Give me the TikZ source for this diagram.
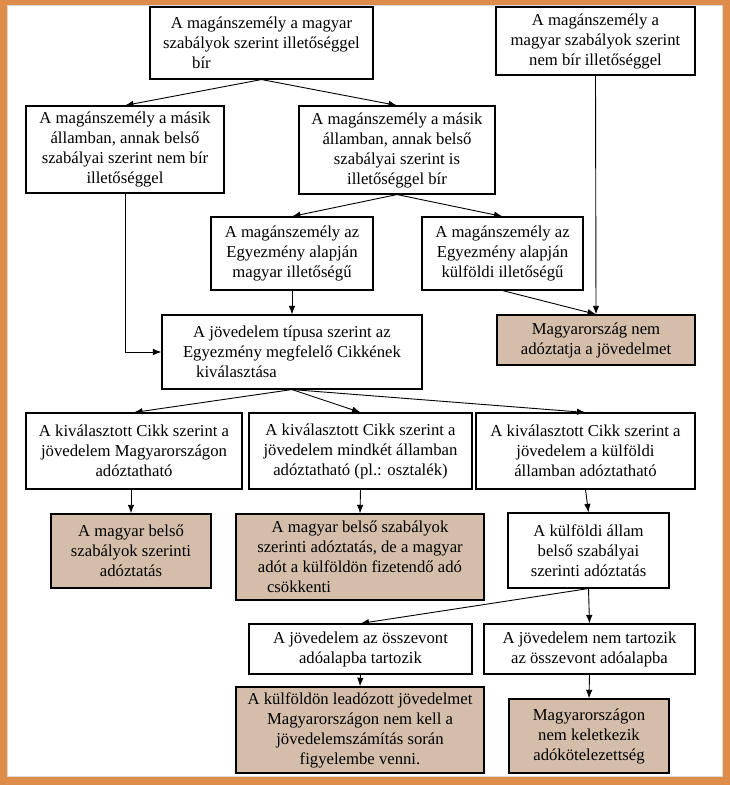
\documentclass[tikz,border=0pt]{standalone}
\usepackage{fontspec}
\setmainfont{Liberation Serif}
\usetikzlibrary{arrows.meta}
\definecolor{frameorange}{RGB}{222,140,74}
\definecolor{taxbrown}{RGB}{212,190,170}
\begin{document}
\begin{tikzpicture}[x=1pt, y=-1pt, >={Latex[length=8.5pt,width=6.5pt]},
	line width=0.9pt,
	main node/.style={rectangle,draw,line width=1.1pt,fill=white,inner sep=2pt,
		align=center,font=\fontsize{16.7}{20}\selectfont},
	tax node/.style={main node,fill=taxbrown,line width=1.4pt}]
	
	\useasboundingbox (0,0) rectangle (730,785);
	\fill[frameorange] (0,0) rectangle (730,785);
	\filldraw[fill=white,draw=gray!30,line width=0.6pt] (7,5) rectangle (722,776);
	
	\node[main node,minimum width=223pt,minimum height=72pt] (1) at (261.5,43)
		{A magánszemély a magyar\\szabályok szerint illetőséggel\\bír\hspace*{120pt}};
	\node[main node,minimum width=199pt,minimum height=68pt] (2) at (595.5,41)
		{A magánszemély a\\magyar szabályok szerint\\nem bír illetőséggel};
	\node[main node,minimum width=198pt,minimum height=87pt] (3) at (125,149.5)
		{A magánszemély a másik\\államban, annak belső\\szabályai szerint nem bír\\illetőséggel};
	\node[main node,minimum width=196pt,minimum height=88pt] (4) at (397,150)
		{A magánszemély a másik\\államban, annak belső\\szabályai szerint is\\illetőséggel bír};
	\node[main node,minimum width=162pt,minimum height=73pt] (5) at (292,253.5)
		{A magánszemély az\\Egyezmény alapján\\magyar illetőségű};
	\node[main node,minimum width=161pt,minimum height=73pt] (6) at (502.5,253.5)
		{A magánszemély az\\Egyezmény alapján\\külföldi illetőségű};
	\node[main node,minimum width=260pt,minimum height=74pt] (7) at (292,352)
		{A jövedelem típusa szerint az\\Egyezmény megfelelő Cikkének\\kiválasztása\hspace*{111pt}};
	\node[tax node,minimum width=198pt,minimum height=50pt] (8) at (596,340)
		{Magyarország nem\\adóztatja a jövedelmet};
	
	\node[main node,minimum width=216pt,minimum height=76pt] (9) at (134,451)
		{A kiválasztott Cikk szerint a\\jövedelem Magyarországon\\adóztatható};
	\node[main node,minimum width=223pt,minimum height=76pt] (10) at (360.5,451)
		{A kiválasztott Cikk szerint a\\jövedelem mindkét államban\\adóztatható (pl.: osztalék)};
	\node[main node,minimum width=219pt,minimum height=76pt] (11) at (585.5,451)
		{A kiválasztott Cikk szerint a\\jövedelem a külföldi\\államban adóztatható};
	\node[tax node,minimum width=160pt,minimum height=74pt] (12) at (131,551)
		{A magyar belső\\szabályok szerinti\\adóztatás};
	\node[tax node,minimum width=248pt,minimum height=86pt] (13) at (360,557)
		{A magyar belső szabályok\\szerinti adóztatás, de a magyar\\adót a külföldön fizetendő adó\\csökkenti\hspace*{122pt}};
	\node[main node,minimum width=161pt,minimum height=75pt] (14) at (588.5,550.5)
		{A külföldi állam\\belső szabályai\\szerinti adóztatás};
	
	\node[main node,minimum width=223pt,minimum height=50pt] (15) at (360.5,649)
		{A jövedelem az összevont\\adóalapba tartozik};
	\node[main node,minimum width=211pt,minimum height=50pt] (16) at (589.5,649)
		{A jövedelem nem tartozik\\az összevont adóalapba};
	\node[tax node,minimum width=248pt,minimum height=86pt] (17) at (360,730)
		{A külföldön leadózott jövedelmet\\Magyarországon nem kell a\\jövedelemszámítás során\\figyelembe venni.};
	\node[tax node,minimum width=160pt,minimum height=74pt] (18) at (589,736)
		{Magyarországon\\nem keletkezik\\adókötelezettség};
	
	\path[->]
	(1.south) edge (3.north)
	(1.south) edge (4.north)
	(4.south) edge (5.north)
	(4.south) edge (6.north)
	(5.south) edge (7.north)
	(2.south) edge (8.north)
	(6.south) edge (8.north)
	(7.south) edge (9.north)
	(7.south) edge (10.north)
	(7.south) edge (11.north)
	(12.north |- 9.south) edge (12.north)
	(10.south) edge (13.north)
	(11.south) edge (14.north)
	(14.south) edge (15.north)
	(14.south) edge (16.north)
	(15.south) edge (17.north)
	(16.south) edge (18.north);
	\draw[->] (3.south) |- (7.west);
\end{tikzpicture}
\end{document}
